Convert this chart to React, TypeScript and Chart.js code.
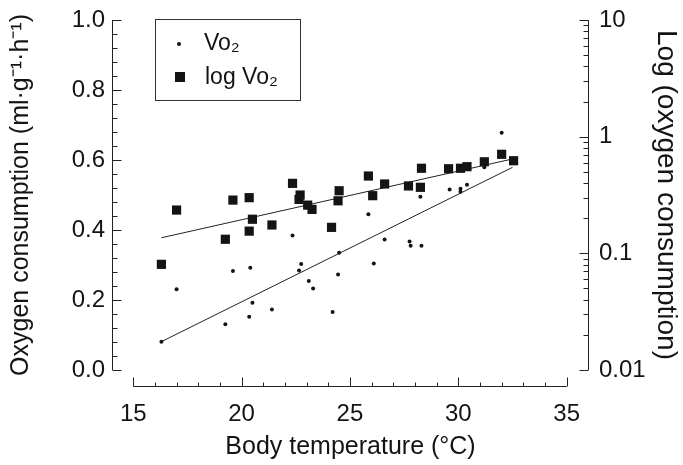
import React, { useEffect, useRef } from "react";
import { Chart, registerables } from "chart.js";

Chart.register(...registerables);

// ---- Data ----
const vo2Temp = [16.3, 17.0, 19.25, 19.6, 20.4, 20.5, 20.35, 21.4, 22.35, 22.75, 22.65, 23.1, 23.3, 24.2, 24.5, 24.45, 25.85, 26.1, 26.6, 27.75, 27.8, 28.3, 28.25, 29.6, 30.1, 30.1, 30.4, 31.2, 32.0];
const vo2Values = [0.081, 0.231, 0.131, 0.283, 0.292, 0.192, 0.152, 0.173, 0.384, 0.303, 0.284, 0.254, 0.233, 0.166, 0.335, 0.273, 0.445, 0.304, 0.373, 0.367, 0.355, 0.355, 0.495, 0.516, 0.518, 0.509, 0.529, 0.579, 0.678];

const logTemp = [16.3, 17.0, 19.25, 19.6, 20.35, 20.35, 20.5, 21.4, 22.35, 22.7, 22.65, 23.05, 23.25, 24.15, 24.5, 24.45, 25.85, 26.05, 26.6, 27.7, 28.25, 28.3, 29.55, 30.1, 30.4, 31.2, 32.0, 32.55];
const logValues = [0.0805, 0.235, 0.132, 0.286, 0.3, 0.155, 0.196, 0.175, 0.398, 0.316, 0.29, 0.259, 0.238, 0.167, 0.344, 0.282, 0.46, 0.312, 0.393, 0.378, 0.368, 0.536, 0.531, 0.536, 0.553, 0.609, 0.706, 0.622];

const fitTemp = [16.3, 32.5];
const vo2Fit = [0.081, 0.579];
const logFit = [0.136, 0.644];

const xTicks = [15, 20, 25, 30, 35];
const leftTicks = [0, 0.2, 0.4, 0.6, 0.8, 1.0];
const rightTicks = [0.01, 0.1, 1, 10];

const FONT = "'Liberation Sans', Arial, Helvetica, sans-serif";
const INK = "#141414";

const pts = (xs: number[], ys: number[]) => xs.map((x, i) => ({ x, y: ys[i] }));

const axesPlugin = {
  id: "customAxes",
  afterDraw(chart: any) {
    const { ctx, chartArea, scales } = chart;
    const x = scales.x, y = scales.y, y2 = scales.y2;
    ctx.save();
    ctx.strokeStyle = "#222";
    ctx.lineWidth = 1;
    const line = (x1: number, y1: number, x2: number, y2_: number) => {
      ctx.beginPath();
      ctx.moveTo(x1, y1);
      ctx.lineTo(x2, y2_);
      ctx.stroke();
    };
    // left axis
    const lx = Math.round(chartArea.left) + 0.5;
    line(lx, y.getPixelForValue(1), lx, y.getPixelForValue(0));
    for (let i = 0; i <= 25; i++) {
      const p = Math.round(y.getPixelForValue(i * 0.04)) + 0.5;
      line(lx, p, lx + (i % 5 === 0 ? 9 : 5), p);
    }
    // right axis (log)
    const rx = Math.round(chartArea.right) - 0.5;
    line(rx, y2.getPixelForValue(10), rx, y2.getPixelForValue(0.01));
    for (const d of [0.01, 0.1, 1]) {
      for (let m = 1; m <= 9; m++) {
        const p = Math.round(y2.getPixelForValue(d * m)) + 0.5;
        line(rx, p, rx - (m === 1 ? 9 : 5), p);
      }
    }
    const pt = Math.round(y2.getPixelForValue(10)) + 0.5;
    line(rx, pt, rx - 9, pt);
    // bottom axis (offset)
    const by = Math.round(chartArea.bottom + 16) + 0.5;
    line(x.getPixelForValue(15), by, x.getPixelForValue(35), by);
    for (let t = 15; t <= 35; t++) {
      const p = Math.round(x.getPixelForValue(t)) + 0.5;
      line(p, by, p, by - (t % 5 === 0 ? 9 : 4));
    }
    ctx.restore();
  },
};

const legendPlugin = {
  id: "boxLegend",
  afterDraw(chart: any) {
    const { ctx } = chart;
    ctx.save();
    ctx.strokeStyle = "#333";
    ctx.lineWidth = 1;
    ctx.strokeRect(155.5, 19.5, 145, 81);
    ctx.fillStyle = INK;
    ctx.beginPath();
    ctx.arc(179, 44, 2, 0, Math.PI * 2);
    ctx.fill();
    ctx.fillRect(175, 72, 10, 10);
    ctx.font = `23px ${FONT}`;
    ctx.textBaseline = "middle";
    ctx.textAlign = "left";
    ctx.fillText("Vo₂", 204, 44);
    ctx.fillText("log Vo₂", 205, 78);
    ctx.restore();
  },
};

export default function App() {
  const ref = useRef<HTMLCanvasElement | null>(null);
  useEffect(() => {
    document.body.style.margin = "0";
    const canvas = ref.current;
    if (!canvas) return;
    const tickFont = { family: FONT, size: 24 };
    const titleFont = { family: FONT, size: 25 };
    const chart = new Chart(canvas, {
      type: "scatter",
      data: {
        datasets: [
          {
            label: "Vo₂",
            data: pts(vo2Temp, vo2Values),
            yAxisID: "y",
            pointStyle: "circle",
            pointRadius: 2,
            backgroundColor: INK,
            borderColor: INK,
            borderWidth: 0,
          },
          {
            label: "log Vo₂",
            data: pts(logTemp, logValues),
            yAxisID: "y2",
            pointStyle: "rect",
            pointRadius: 6.5,
            backgroundColor: INK,
            borderColor: INK,
            borderWidth: 0,
          },
          {
            label: "Vo₂ fit",
            data: pts(fitTemp, vo2Fit),
            yAxisID: "y",
            showLine: true,
            pointRadius: 0,
            borderColor: "#222",
            borderWidth: 1,
          },
          {
            label: "log Vo₂ fit",
            data: pts(fitTemp, logFit),
            yAxisID: "y2",
            showLine: true,
            pointRadius: 0,
            borderColor: "#222",
            borderWidth: 1,
          },
        ],
      },
      options: {
        animation: false,
        responsive: true,
        maintainAspectRatio: false,
        devicePixelRatio: 1,
        layout: { padding: { top: 20, left: 0, right: 0, bottom: 0 } },
        plugins: { legend: { display: false }, tooltip: { enabled: false } },
        scales: {
          x: {
            type: "linear",
            min: 14.02,
            max: 36.03,
            afterBuildTicks: (s: any) => {
              s.ticks = xTicks.map((v) => ({ value: v }));
            },
            afterFit: (s: any) => {
              s.height = 95;
              s.paddingLeft = 0;
              s.paddingRight = 0;
            },
            grid: { display: false, drawTicks: false },
            border: { display: false },
            ticks: {
              autoSkip: false,
              maxRotation: 0,
              padding: 30,
              color: INK,
              font: tickFont,
              callback: (v: any) => String(v),
            },
            title: {
              display: true,
              text: "Body temperature (°C)",
              color: INK,
              font: titleFont,
              padding: { top: 0, bottom: 3 },
            },
          },
          y: {
            type: "linear",
            position: "left",
            min: 0,
            max: 1,
            afterBuildTicks: (s: any) => {
              s.ticks = leftTicks.map((v) => ({ value: v }));
            },
            afterFit: (s: any) => {
              s.width = 112;
              s.paddingTop = 0;
              s.paddingBottom = 0;
            },
            grid: { display: false, drawTicks: false },
            border: { display: false },
            ticks: {
              padding: 7,
              color: INK,
              font: tickFont,
              callback: (v: any) => Number(v).toFixed(1),
            },
            title: {
              display: true,
              text: "Oxygen consumption (ml·g⁻¹·h⁻¹)",
              color: INK,
              font: titleFont,
              padding: { top: 6, bottom: 0 },
            },
          },
          y2: {
            type: "logarithmic",
            position: "right",
            min: 0.01,
            max: 10,
            afterBuildTicks: (s: any) => {
              s.ticks = rightTicks.map((v) => ({ value: v }));
            },
            afterFit: (s: any) => {
              s.width = 94;
              s.paddingTop = 0;
              s.paddingBottom = 0;
            },
            grid: { display: false, drawTicks: false },
            border: { display: false },
            ticks: {
              padding: 10,
              color: INK,
              font: tickFont,
              callback: (v: any) => String(v),
            },
            title: {
              display: true,
              text: "Log (oxygen consumption)",
              color: INK,
              font: { family: FONT, size: 28 },
              padding: { top: 0, bottom: 0 },
            },
          },
        },
      },
      plugins: [axesPlugin, legendPlugin],
    } as any);
    return () => chart.destroy();
  }, []);
  return (
    <div style={{ position: "relative", width: 683, height: 465, background: "#fff" }}>
      <canvas ref={ref} />
    </div>
  );
}
